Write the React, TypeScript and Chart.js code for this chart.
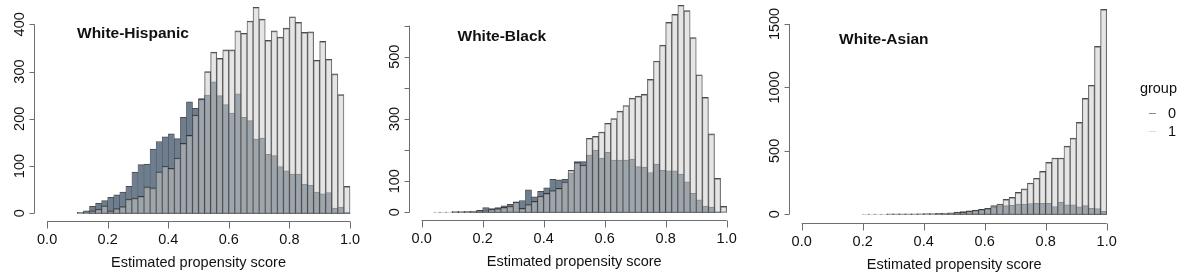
import React, { useEffect, useRef } from "react";
import { Chart, registerables } from "chart.js";

Chart.register(...registerables);

// Histogram bins: left edges, bin width 0.02
const binLeftEdges = [
  0.0, 0.02, 0.04, 0.06, 0.08, 0.1, 0.12, 0.14, 0.16, 0.18,
  0.2, 0.22, 0.24, 0.26, 0.28, 0.3, 0.32, 0.34, 0.36, 0.38,
  0.4, 0.42, 0.44, 0.46, 0.48, 0.5, 0.52, 0.54, 0.56, 0.58,
  0.6, 0.62, 0.64, 0.66, 0.68, 0.7, 0.72, 0.74, 0.76, 0.78,
  0.8, 0.82, 0.84, 0.86, 0.88, 0.9, 0.92, 0.94, 0.96, 0.98,
];
const binWidth = 0.02;

// White-Hispanic
const hispanicGroup0 = [
  null, null, null, null, null,
  2, 5, 15, 21, 27, 34, 39, 45, 57, 87, 103, 104, 136, 152, 162,
  168, 158, 203, 236, 222, 243, 250, 278, 249, 230, 212, 253, 203, 196, 157,
  159, 125, 122, 99, 90, 83, 83, 62, 59, 45, 41, 44, 11, 13, 2,
];
const hispanicGroup1 = [
  null, null, null, null, null,
  1, 1, 5, 9, 16, 5, 10, 14, 30, 32, 36, 56, 54, 88, 100,
  95, 117, 148, 165, 208, 242, 300, 341, 328, 346, 346, 386, 381, 407, 436,
  411, 366, 386, 373, 392, 416, 404, 383, 384, 324, 364, 326, 295, 251, 57,
];

// White-Black
const blackGroup0 = [
  null, null, 0, 0, 0, 1, 1, 2, 3, 6,
  15, 12, 15, 21, 26, 34, 38, 72, 50, 67,
  79, 106, 104, 106, 127, 163, 163, 184, 200, 173,
  193, 168, 168, 168, 171, 147, 145, 128, 155, 135,
  133, 133, 122, 98, 61, 40, 20, 17, 1, 0,
];
const blackGroup1 = [
  null, null, 1, 1, 1, 3, 3, 2, 4, 5,
  5, 10, 12, 16, 20, 33, 13, 25, 35, 52,
  61, 70, 77, 98, 135, 160, 152, 238, 244, 258,
  286, 301, 325, 343, 367, 373, 379, 427, 486, 537,
  610, 636, 665, 648, 561, 442, 369, 252, 109, 19,
];

// White-Asian
const asianGroup0 = [
  null, null, null, null, null, null, null, null, null, null,
  0, 0, 0, 0, 2, 2, 2, 2, 2, 3,
  5, 6, 7, 9, 12, 17, 22, 27, 32, 38,
  44, 55, 66, 68, 70, 80, 80, 85, 86, 86,
  87, 62, 95, 75, 74, 60, 68, 48, 46, 24,
];
const asianGroup1 = [
  null, null, null, null, null, null, null, null, null, null,
  2, 2, 2, 2, 3, 3, 3, 3, 3, 3,
  3, 4, 5, 6, 8, 11, 18, 26, 33, 39,
  47, 68, 81, 118, 134, 173, 200, 247, 284, 339,
  410, 444, 444, 538, 601, 725, 914, 1017, 1324, 1615,
];

const xTicks = [0, 0.2, 0.4, 0.6, 0.8, 1.0];
const xTickLabels = ["0.0", "0.2", "0.4", "0.6", "0.8", "1.0"];

const hispanicYTicks = [0, 100, 200, 300, 400];
const hispanicYLabels = ["0", "100", "200", "300", "400"];
const blackYTicks = [0, 100, 200, 300, 400, 500, 600];
const blackYLabels = ["0", "100", "", "300", "", "500", ""];
const asianYTicks = [0, 500, 1000, 1500];
const asianYLabels = ["0", "500", "1000", "1500"];

const xAxisTitle = "Estimated propensity score";
const legendTitle = "group";
const legendLabels = ["0", "1"];

const DARK_FILL = "rgb(110,126,143)";
const LIGHT_FILL = "rgba(204,204,204,0.5)";
const BAR_BORDER = "rgba(45,45,45,0.85)";
const AXIS_COLOR = "#6e6e6e";
const TEXT_COLOR = "#111";
const FONT = '"Liberation Sans", Arial, Helvetica, sans-serif';

type PanelCfg = {
  title: string;
  g0: (number | null)[];
  g1: (number | null)[];
  yTicks: number[];
  yLabels: string[];
  yMin: number;
  yMax: number;
  canvasLeft: number;
  canvasWidth: number;
  pad: { left: number; right: number; top: number; bottom: number };
  titleX: number;
  titleBaseline: number;
  tickLabelGap: number;
  legend?: boolean;
};

const toPoints = (vals: (number | null)[]) =>
  binLeftEdges.map((e, i) => ({ x: e + binWidth / 2, y: vals[i] }));

const rAxesPlugin = {
  id: "rAxes",
  afterDraw(chart: any) {
    const cfg: PanelCfg = chart.options.plugins.rAxes.cfg;
    const ctx = chart.ctx;
    const xs = chart.scales.x;
    const ys = chart.scales.y;
    const area = chart.chartArea;
    ctx.save();
    ctx.strokeStyle = AXIS_COLOR;
    ctx.lineWidth = 1;
    ctx.fillStyle = TEXT_COLOR;

    // x axis
    const xb = Math.round(area.bottom) + 0.5;
    ctx.beginPath();
    ctx.moveTo(xs.getPixelForValue(xTicks[0]), xb);
    ctx.lineTo(xs.getPixelForValue(xTicks[xTicks.length - 1]), xb);
    xTicks.forEach((t) => {
      const px = Math.round(xs.getPixelForValue(t)) + 0.5;
      ctx.moveTo(px, xb);
      ctx.lineTo(px, xb + 7);
    });
    ctx.stroke();
    ctx.font = `14.5px ${FONT}`;
    ctx.textAlign = "center";
    ctx.textBaseline = "alphabetic";
    xTicks.forEach((t, i) => {
      ctx.fillText(xTickLabels[i], xs.getPixelForValue(t), xb + cfg.tickLabelGap);
    });
    ctx.fillText(xAxisTitle, xs.getPixelForValue(0.5), xb + cfg.tickLabelGap + 23);

    // y axis
    const yl = Math.round(area.left) - 0.5;
    ctx.beginPath();
    ctx.moveTo(yl, ys.getPixelForValue(cfg.yTicks[0]));
    ctx.lineTo(yl, ys.getPixelForValue(cfg.yTicks[cfg.yTicks.length - 1]));
    cfg.yTicks.forEach((t) => {
      const py = Math.round(ys.getPixelForValue(t)) + 0.5;
      ctx.moveTo(yl, py);
      ctx.lineTo(yl - 5, py);
    });
    ctx.stroke();
    cfg.yTicks.forEach((t, i) => {
      const lab = cfg.yLabels[i];
      if (!lab) return;
      ctx.save();
      ctx.translate(yl - 11, ys.getPixelForValue(t));
      ctx.rotate(-Math.PI / 2);
      ctx.textAlign = "center";
      ctx.textBaseline = "alphabetic";
      ctx.fillText(lab, 0, 0);
      ctx.restore();
    });

    // panel title
    ctx.font = `bold 15.5px ${FONT}`;
    ctx.textAlign = "left";
    ctx.fillText(cfg.title, cfg.titleX, cfg.titleBaseline);

    // legend
    if (cfg.legend) {
      const lx = area.right + 21;
      ctx.font = `14.5px ${FONT}`;
      ctx.textAlign = "left";
      ctx.fillStyle = TEXT_COLOR;
      ctx.fillText(legendTitle, lx, 93);
      const rows = [
        { y: 113, color: "#8a8a8a" },
        { y: 131, color: "#dcdcdc" },
      ];
      rows.forEach((r, i) => {
        ctx.strokeStyle = r.color;
        ctx.beginPath();
        ctx.moveTo(lx + 9, r.y + 0.5);
        ctx.lineTo(lx + 16, r.y + 0.5);
        ctx.stroke();
        ctx.fillText(legendLabels[i], lx + 28, r.y + 5);
      });
    }
    ctx.restore();
  },
};

const panels: PanelCfg[] = [
  {
    title: "White-Hispanic",
    g0: hispanicGroup0,
    g1: hispanicGroup1,
    yTicks: hispanicYTicks,
    yLabels: hispanicYLabels,
    yMin: -15.2,
    yMax: 451.4,
    canvasLeft: 0,
    canvasWidth: 372,
    pad: { left: 35, right: 9.9, top: 0, bottom: 55.5 },
    titleX: 77,
    titleBaseline: 38,
    tickLabelGap: 22.5,
  },
  {
    title: "White-Black",
    g0: blackGroup0,
    g1: blackGroup1,
    yTicks: blackYTicks,
    yLabels: blackYLabels,
    yMin: -24.7,
    yMax: 682,
    canvasLeft: 372,
    canvasWidth: 378,
    pad: { left: 37.5, right: 11.1, top: 0, bottom: 56 },
    titleX: 85.5,
    titleBaseline: 41,
    tickLabelGap: 22.5,
  },
  {
    title: "White-Asian",
    g0: asianGroup0,
    g1: asianGroup1,
    yTicks: asianYTicks,
    yLabels: asianYLabels,
    yMin: -66,
    yMax: 1689,
    canvasLeft: 750,
    canvasWidth: 446,
    pad: { left: 39.5, right: 77.1, top: 0, bottom: 53.3 },
    titleX: 89,
    titleBaseline: 44,
    tickLabelGap: 22,
    legend: true,
  },
];

function Panel({ cfg }: { cfg: PanelCfg }) {
  const ref = useRef<HTMLCanvasElement>(null);
  useEffect(() => {
    const barCommon = {
      grouped: false,
      barPercentage: 1,
      categoryPercentage: 1,
      borderSkipped: false,
      borderColor: BAR_BORDER,
      borderWidth: { top: 1, left: 0.5, right: 0.5, bottom: 0.5 },
    };
    const chart = new Chart(ref.current as HTMLCanvasElement, {
      type: "bar",
      data: {
        datasets: [
          {
            label: "1",
            data: toPoints(cfg.g1) as any,
            backgroundColor: LIGHT_FILL,
            order: 0,
            ...barCommon,
          } as any,
          {
            label: "0",
            data: toPoints(cfg.g0) as any,
            backgroundColor: DARK_FILL,
            order: 1,
            ...barCommon,
          } as any,
        ],
      },
      options: {
        animation: false,
        responsive: false,
        devicePixelRatio: 1,
        layout: { padding: cfg.pad },
        scales: {
          x: { type: "linear", min: -0.04, max: 1.04, display: false, offset: false },
          y: { type: "linear", min: cfg.yMin, max: cfg.yMax, display: false },
        },
        plugins: {
          legend: { display: false },
          tooltip: { enabled: false },
          rAxes: { cfg },
        } as any,
      },
      plugins: [rAxesPlugin],
    });
    return () => chart.destroy();
  }, [cfg]);
  return (
    <canvas
      ref={ref}
      width={cfg.canvasWidth}
      height={276}
      style={{
        position: "absolute",
        left: cfg.canvasLeft,
        top: 0,
        width: cfg.canvasWidth,
        height: 276,
      }}
    />
  );
}

export default function App() {
  return (
    <div
      style={{
        position: "fixed",
        left: 0,
        top: 0,
        width: 1196,
        height: 276,
        background: "#fff",
        overflow: "hidden",
      }}
    >
      {panels.map((p) => (
        <Panel key={p.title} cfg={p} />
      ))}
    </div>
  );
}
